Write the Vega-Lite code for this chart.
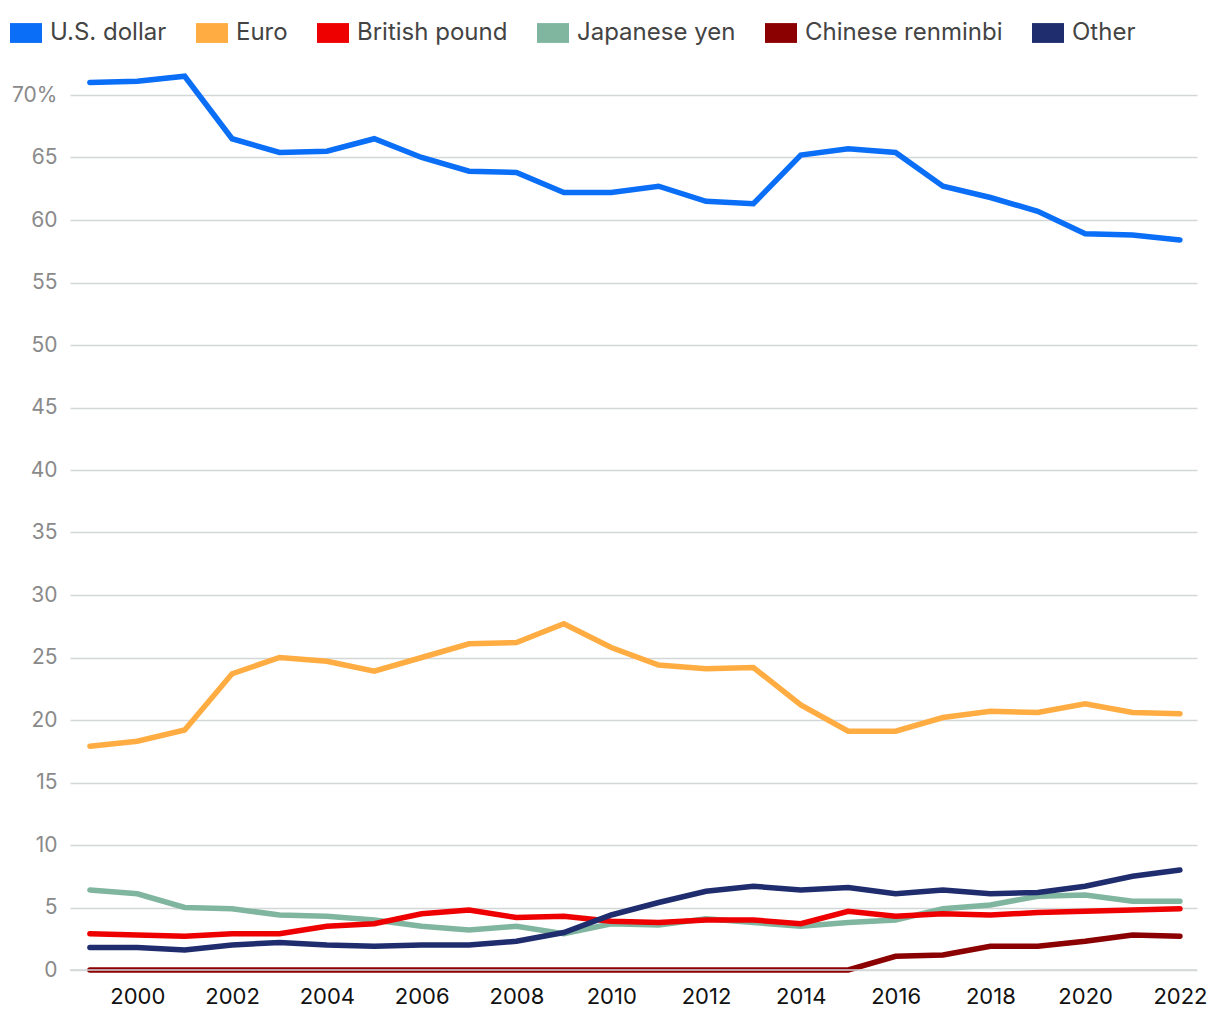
{
  "$schema": "https://vega.github.io/schema/vega-lite/v6.json",
  "width": 1127,
  "height": 900,
  "autosize": {"type": "none"},
  "padding": {"left": 70, "top": 70, "right": 23, "bottom": 50},
  "background": "white",
  "config": {"view": {"stroke": null}, "font": "Inter"},
  "datasets": {
    "shares": [
      {"currency":"U.S. dollar","year":1999,"share":71.0},{"currency":"U.S. dollar","year":2000,"share":71.1},{"currency":"U.S. dollar","year":2001,"share":71.5},{"currency":"U.S. dollar","year":2002,"share":66.5},{"currency":"U.S. dollar","year":2003,"share":65.4},{"currency":"U.S. dollar","year":2004,"share":65.5},{"currency":"U.S. dollar","year":2005,"share":66.5},{"currency":"U.S. dollar","year":2006,"share":65.0},{"currency":"U.S. dollar","year":2007,"share":63.9},{"currency":"U.S. dollar","year":2008,"share":63.8},{"currency":"U.S. dollar","year":2009,"share":62.2},{"currency":"U.S. dollar","year":2010,"share":62.2},{"currency":"U.S. dollar","year":2011,"share":62.7},{"currency":"U.S. dollar","year":2012,"share":61.5},{"currency":"U.S. dollar","year":2013,"share":61.3},{"currency":"U.S. dollar","year":2014,"share":65.2},{"currency":"U.S. dollar","year":2015,"share":65.7},{"currency":"U.S. dollar","year":2016,"share":65.4},{"currency":"U.S. dollar","year":2017,"share":62.7},{"currency":"U.S. dollar","year":2018,"share":61.8},{"currency":"U.S. dollar","year":2019,"share":60.7},{"currency":"U.S. dollar","year":2020,"share":58.9},{"currency":"U.S. dollar","year":2021,"share":58.8},{"currency":"U.S. dollar","year":2022,"share":58.4},
      {"currency":"Euro","year":1999,"share":17.9},{"currency":"Euro","year":2000,"share":18.3},{"currency":"Euro","year":2001,"share":19.2},{"currency":"Euro","year":2002,"share":23.7},{"currency":"Euro","year":2003,"share":25.0},{"currency":"Euro","year":2004,"share":24.7},{"currency":"Euro","year":2005,"share":23.9},{"currency":"Euro","year":2006,"share":25.0},{"currency":"Euro","year":2007,"share":26.1},{"currency":"Euro","year":2008,"share":26.2},{"currency":"Euro","year":2009,"share":27.7},{"currency":"Euro","year":2010,"share":25.8},{"currency":"Euro","year":2011,"share":24.4},{"currency":"Euro","year":2012,"share":24.1},{"currency":"Euro","year":2013,"share":24.2},{"currency":"Euro","year":2014,"share":21.2},{"currency":"Euro","year":2015,"share":19.1},{"currency":"Euro","year":2016,"share":19.1},{"currency":"Euro","year":2017,"share":20.2},{"currency":"Euro","year":2018,"share":20.7},{"currency":"Euro","year":2019,"share":20.6},{"currency":"Euro","year":2020,"share":21.3},{"currency":"Euro","year":2021,"share":20.6},{"currency":"Euro","year":2022,"share":20.5},
      {"currency":"Japanese yen","year":1999,"share":6.4},{"currency":"Japanese yen","year":2000,"share":6.1},{"currency":"Japanese yen","year":2001,"share":5.0},{"currency":"Japanese yen","year":2002,"share":4.9},{"currency":"Japanese yen","year":2003,"share":4.4},{"currency":"Japanese yen","year":2004,"share":4.3},{"currency":"Japanese yen","year":2005,"share":4.0},{"currency":"Japanese yen","year":2006,"share":3.5},{"currency":"Japanese yen","year":2007,"share":3.2},{"currency":"Japanese yen","year":2008,"share":3.5},{"currency":"Japanese yen","year":2009,"share":2.9},{"currency":"Japanese yen","year":2010,"share":3.7},{"currency":"Japanese yen","year":2011,"share":3.6},{"currency":"Japanese yen","year":2012,"share":4.1},{"currency":"Japanese yen","year":2013,"share":3.8},{"currency":"Japanese yen","year":2014,"share":3.5},{"currency":"Japanese yen","year":2015,"share":3.8},{"currency":"Japanese yen","year":2016,"share":4.0},{"currency":"Japanese yen","year":2017,"share":4.9},{"currency":"Japanese yen","year":2018,"share":5.2},{"currency":"Japanese yen","year":2019,"share":5.9},{"currency":"Japanese yen","year":2020,"share":6.0},{"currency":"Japanese yen","year":2021,"share":5.5},{"currency":"Japanese yen","year":2022,"share":5.5},
      {"currency":"British pound","year":1999,"share":2.9},{"currency":"British pound","year":2000,"share":2.8},{"currency":"British pound","year":2001,"share":2.7},{"currency":"British pound","year":2002,"share":2.9},{"currency":"British pound","year":2003,"share":2.9},{"currency":"British pound","year":2004,"share":3.5},{"currency":"British pound","year":2005,"share":3.7},{"currency":"British pound","year":2006,"share":4.5},{"currency":"British pound","year":2007,"share":4.8},{"currency":"British pound","year":2008,"share":4.2},{"currency":"British pound","year":2009,"share":4.3},{"currency":"British pound","year":2010,"share":3.9},{"currency":"British pound","year":2011,"share":3.8},{"currency":"British pound","year":2012,"share":4.0},{"currency":"British pound","year":2013,"share":4.0},{"currency":"British pound","year":2014,"share":3.7},{"currency":"British pound","year":2015,"share":4.7},{"currency":"British pound","year":2016,"share":4.3},{"currency":"British pound","year":2017,"share":4.5},{"currency":"British pound","year":2018,"share":4.4},{"currency":"British pound","year":2019,"share":4.6},{"currency":"British pound","year":2020,"share":4.7},{"currency":"British pound","year":2021,"share":4.8},{"currency":"British pound","year":2022,"share":4.9},
      {"currency":"Chinese renminbi","year":1999,"share":0},{"currency":"Chinese renminbi","year":2000,"share":0},{"currency":"Chinese renminbi","year":2001,"share":0},{"currency":"Chinese renminbi","year":2002,"share":0},{"currency":"Chinese renminbi","year":2003,"share":0},{"currency":"Chinese renminbi","year":2004,"share":0},{"currency":"Chinese renminbi","year":2005,"share":0},{"currency":"Chinese renminbi","year":2006,"share":0},{"currency":"Chinese renminbi","year":2007,"share":0},{"currency":"Chinese renminbi","year":2008,"share":0},{"currency":"Chinese renminbi","year":2009,"share":0},{"currency":"Chinese renminbi","year":2010,"share":0},{"currency":"Chinese renminbi","year":2011,"share":0},{"currency":"Chinese renminbi","year":2012,"share":0},{"currency":"Chinese renminbi","year":2013,"share":0},{"currency":"Chinese renminbi","year":2014,"share":0},{"currency":"Chinese renminbi","year":2015,"share":0},{"currency":"Chinese renminbi","year":2016,"share":1.1},{"currency":"Chinese renminbi","year":2017,"share":1.2},{"currency":"Chinese renminbi","year":2018,"share":1.9},{"currency":"Chinese renminbi","year":2019,"share":1.9},{"currency":"Chinese renminbi","year":2020,"share":2.3},{"currency":"Chinese renminbi","year":2021,"share":2.8},{"currency":"Chinese renminbi","year":2022,"share":2.7},
      {"currency":"Other","year":1999,"share":1.8},{"currency":"Other","year":2000,"share":1.8},{"currency":"Other","year":2001,"share":1.6},{"currency":"Other","year":2002,"share":2.0},{"currency":"Other","year":2003,"share":2.2},{"currency":"Other","year":2004,"share":2.0},{"currency":"Other","year":2005,"share":1.9},{"currency":"Other","year":2006,"share":2.0},{"currency":"Other","year":2007,"share":2.0},{"currency":"Other","year":2008,"share":2.3},{"currency":"Other","year":2009,"share":3.0},{"currency":"Other","year":2010,"share":4.4},{"currency":"Other","year":2011,"share":5.4},{"currency":"Other","year":2012,"share":6.3},{"currency":"Other","year":2013,"share":6.7},{"currency":"Other","year":2014,"share":6.4},{"currency":"Other","year":2015,"share":6.6},{"currency":"Other","year":2016,"share":6.1},{"currency":"Other","year":2017,"share":6.4},{"currency":"Other","year":2018,"share":6.1},{"currency":"Other","year":2019,"share":6.2},{"currency":"Other","year":2020,"share":6.7},{"currency":"Other","year":2021,"share":7.5},{"currency":"Other","year":2022,"share":8.0}
    ],
    "zero": [{"v": 0}]
  },
  "layer": [
    {
      "data": {"name": "shares"},
      "mark": {"type": "line", "strokeWidth": 5.5, "strokeCap": "round", "strokeJoin": "miter"},
      "encoding": {
        "x": {
          "field": "year", "type": "quantitative",
          "scale": {"domain": [1998.58, 2022.36], "nice": false, "zero": false},
          "axis": {
            "title": null, "values": [2000,2002,2004,2006,2008,2010,2012,2014,2016,2018,2020,2022],
            "format": "d", "grid": false, "domain": false, "ticks": false,
            "labelFontSize": 22, "labelColor": "#111111", "labelPadding": 16, "labelFont": "Inter"
          }
        },
        "y": {
          "field": "share", "type": "quantitative",
          "scale": {"domain": [0, 72], "nice": false},
          "axis": {
            "title": null, "values": [0,5,10,15,20,25,30,35,40,45,50,55,60,65,70],
            "labelExpr": "datum.value == 70 ? '70%' : datum.label",
            "grid": true, "gridColor": "#d3d7d7", "gridWidth": 1.5,
            "domain": false, "ticks": false,
            "labelFontSize": 21, "labelColor": "#8a8a8a", "labelPadding": 13, "labelFont": "Inter"
          }
        },
        "color": {
          "field": "currency", "type": "nominal",
          "scale": {
            "domain": ["U.S. dollar","Euro","British pound","Japanese yen","Chinese renminbi","Other"],
            "range": ["#0a6ef7","#ffad42","#ee0000","#80b5a0","#8b0000","#1f2d6e"]
          },
          "legend": {
            "title": null, "orient": "none", "direction": "horizontal",
            "legendX": -60, "legendY": -53,
            "symbolType": "M-1,-0.62H1V0.62H-1Z", "symbolSize": 1024,
            "labelFontSize": 24, "labelColor": "#444444", "labelFont": "Inter", "labelLimit": 400,
            "labelOffset": 8, "columnPadding": 29, "symbolOpacity": 1,
            "encode": {
              "symbols": {
                "update": {
                  "fill": {"scale": "color", "field": "value"},
                  "stroke": {"value": "transparent"},
                  "strokeWidth": {"value": 0}
                }
              }
            }
          }
        }
      }
    },
    {
      "data": {"name": "zero"},
      "mark": {"type": "rule", "color": "#d3d7d7", "strokeWidth": 1.5},
      "encoding": {"y": {"field": "v", "type": "quantitative"}}
    }
  ]
}
